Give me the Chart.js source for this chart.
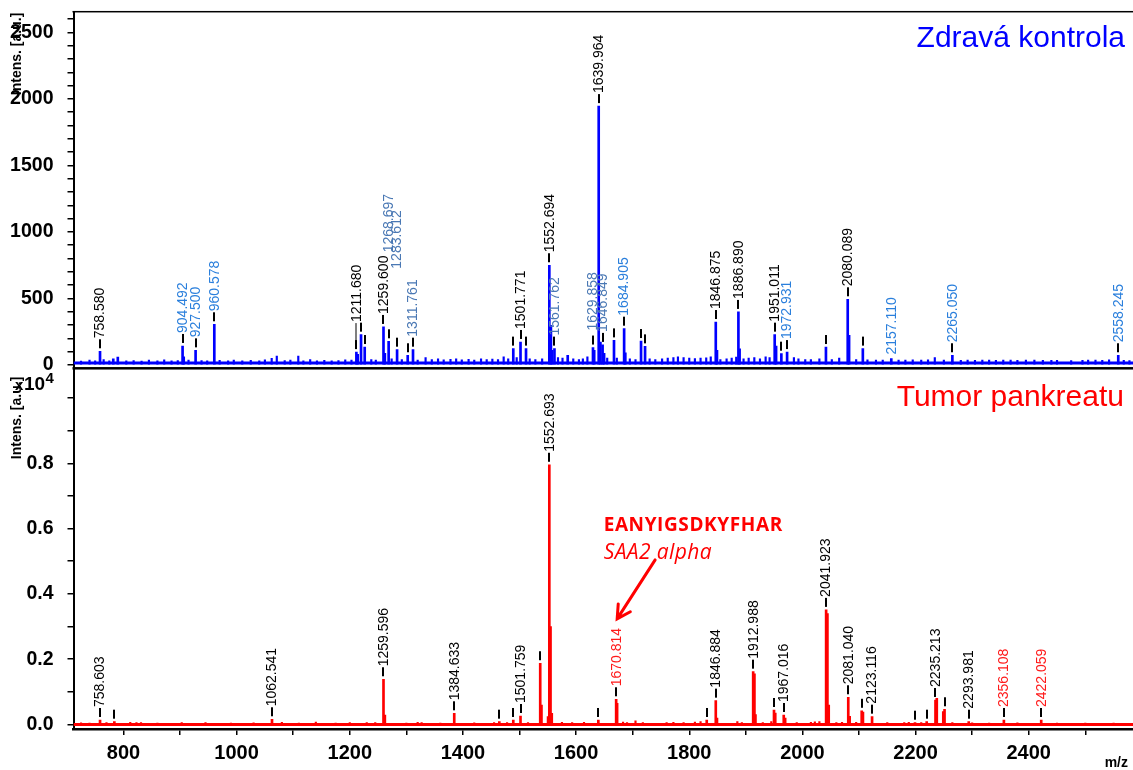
<!DOCTYPE html>
<html>
<head>
<meta charset="utf-8">
<title>Zdravá kontrola vs. Tumor pankreatu</title>
<script src="https://cdn.jsdelivr.net/npm/chart.js@4.4.0/dist/chart.umd.min.js"></script>
<style>
  html, body { margin: 0; padding: 0; background: #fff; }
  #wrap { position: relative; width: 1133px; height: 770px; overflow: hidden; }
  canvas { position: absolute; left: 0; }
  #top-chart { top: -14px; }
  #bottom-chart { top: 342px; }
</style>
</head>
<body>
<div id="wrap">
  <canvas id="top-chart" width="1133" height="408"></canvas>
  <canvas id="bottom-chart" width="1133" height="428"></canvas>
</div>
<script>
// ===== Axis ranges =====
const MZ_MIN = 711.7;
const MZ_MAX = 2584.3;
const TOP_Y_MIN = -26;
const TOP_Y_MAX = 2656;
const BOT_Y_MIN = -138;
const BOT_Y_MAX = 10927;

// ===== Tick labels =====
const xTickLabels    = ['800', '1000', '1200', '1400', '1600', '1800', '2000', '2200', '2400'];
const topYTickLabels = ['0', '500', '1000', '1500', '2000', '2500'];
const botYTickValues = [0, 1000, 2000, 3000, 4000, 5000, 6000, 7000, 8000, 9000, 10000];
const botYTickLabels = ['0.0', '0.2', '0.4', '0.6', '0.8'];

// ===== Zdravá kontrola (top spectrum) =====
const topMz = [
  758.580, 782, 790, 904.492, 906.5, 927.500, 960.578, 1211.680, 1214, 1219.9,
  1226.4, 1259.600, 1262, 1268.697, 1283.612, 1302.4, 1311.761, 1489.0, 1501.771, 1511.5,
  1552.694, 1555.5, 1557.5, 1561.762, 1585.2, 1629.858, 1632, 1639.964, 1643.0, 1646.849,
  1649.5, 1667.0, 1684.905, 1687, 1714.8, 1721.9, 1846.875, 1849, 1886.890, 1889,
  1951.011, 1953.5, 1962.8, 1972.931, 2041.6, 2080.089, 2082.5, 2106.8, 2157.110, 2265.050,
  2558.245,
];
const topInt = [
  102, 45, 59, 142, 60, 109, 305, 96, 80, 227,
  134, 285, 86, 177, 114, 72, 114, 122, 172, 122,
  749, 297, 110, 122, 72, 130, 110, 1946, 172, 150,
  86, 184, 272, 90, 179, 139, 322, 110, 398, 120,
  227, 141, 84, 96, 134, 493, 222, 122, 47, 72,
  72,
];
const topNoiseMz = [
  725, 740, 750, 765, 775, 805, 818, 832, 845, 860,
  872, 885, 896, 915, 938, 948, 970, 985, 995, 1010,
  1025, 1040, 1050, 1062, 1071, 1085, 1095, 1109, 1118, 1130,
  1142, 1155, 1168, 1180, 1192, 1203, 1238, 1246, 1274, 1292,
  1320, 1334, 1345, 1356, 1366, 1378, 1388, 1398, 1410, 1420,
  1432, 1442, 1452, 1462, 1472, 1480, 1495, 1518, 1528, 1540,
  1568, 1576, 1595, 1605, 1612, 1620, 1655, 1672, 1695, 1705,
  1730, 1740, 1752, 1762, 1772, 1780, 1790, 1800, 1810, 1820,
  1830, 1838, 1855, 1866, 1875, 1883, 1896, 1905, 1915, 1925,
  1935, 1942, 1985, 1993, 2005, 2015, 2030, 2052, 2065, 2095,
  2115, 2130, 2142, 2170, 2182, 2195, 2210, 2222, 2234, 2250,
  2280, 2292, 2305, 2318, 2330, 2342, 2355, 2368, 2380, 2395,
  2410, 2425, 2440, 2450, 2475, 2495, 2505, 2518, 2530, 2542, 2568, 2578,
];
const topNoiseInt = [
  28, 35, 30, 40, 30, 30, 32, 28, 35, 30,
  38, 30, 32, 35, 32, 30, 34, 30, 36, 30,
  34, 30, 38, 49, 66, 32, 36, 66, 30, 40,
  30, 34, 30, 32, 38, 35, 40, 35, 45, 40,
  36, 55, 40, 45, 38, 42, 46, 38, 42, 36,
  45, 40, 44, 40, 60, 45, 55, 45, 40, 45,
  55, 50, 45, 40, 45, 60, 50, 50, 45, 40,
  45, 40, 45, 50, 55, 60, 55, 50, 48, 50,
  52, 60, 40, 45, 50, 59, 45, 50, 55, 45,
  60, 55, 54, 45, 40, 40, 45, 40, 50, 40,
  38, 36, 35, 36, 35, 38, 36, 38, 54, 36,
  34, 36, 34, 36, 35, 34, 36, 35, 34, 36,
  36, 34, 34, 34, 32, 34, 36, 35, 34, 38, 34, 32,
];
const topBaseline = [14, 14];
const topLabelsBlack = ['758.580', '1211.680', '1259.600', '1501.771', '1552.694', '1639.964',
                        '1846.875', '1886.890', '1951.011', '2080.089'];
const topLabelsBlue  = ['904.492', '927.500', '960.578', '1684.905', '1972.931', '2157.110',
                        '2265.050', '2558.245'];
const topLabelsSteel = ['1268.697', '1283.612', '1311.761', '1561.762', '1629.858', '1646.849'];
const topMarkers = [1219.9, 1226.4, 1302.4, 1489.0, 1511.5, 1667.0, 1714.8, 1721.9, 1962.8, 2041.6, 2106.8];

// ===== Tumor pankreatu (bottom spectrum) =====
const botMz = [
  758.603, 783.9, 1062.541, 1259.596, 1262, 1384.633, 1464.3, 1489.0, 1501.759, 1536.6,
  1538.8, 1550.5, 1552.693, 1554.8, 1557, 1639.3, 1670.814, 1672.5, 1830.9, 1846.884,
  1849, 1912.988, 1915.2, 1917, 1949.8, 1952, 1967.016, 1969.5, 2041.923, 2044.2,
  2046.5, 2081.040, 2083.5, 2104.8, 2107, 2123.116, 2199.0, 2219.7, 2235.213, 2237.5,
  2249.0, 2251.2, 2293.981, 2356.108, 2422.059,
];
const botInt = [
  138, 86, 160, 1385, 290, 343, 86, 138, 260, 1876,
  598, 240, 7954, 2998, 343, 138, 772, 650, 138, 730,
  200, 1618, 1550, 300, 444, 350, 291, 200, 3510, 3400,
  598, 834, 250, 420, 380, 240, 55, 86, 751, 803,
  392, 466, 86, 138, 138,
];
const botNoiseMz = [
  725, 740, 770, 812, 823, 831, 860, 903, 945, 990,
  1030, 1080, 1110, 1140, 1175, 1200, 1230, 1245, 1300, 1320,
  1327, 1360, 1420, 1455, 1478, 1515, 1575, 1593, 1614, 1683,
  1690, 1705, 1718, 1760, 1772, 1790, 1810, 1820, 1885, 1893,
  1930, 1945, 1990, 2015, 2022, 2030, 2060, 2070, 2095, 2150,
  2180, 2188, 2210, 2265, 2300, 2330, 2380, 2450, 2500, 2550,
];
const botNoiseInt = [
  50, 40, 60, 70, 60, 55, 40, 60, 55, 40,
  50, 70, 40, 75, 40, 55, 60, 55, 40, 70,
  60, 40, 50, 60, 55, 60, 70, 60, 70, 75,
  60, 110, 60, 60, 70, 60, 75, 90, 90, 60,
  60, 90, 55, 70, 80, 90, 60, 70, 70, 55,
  60, 70, 60, 60, 50, 40, 50, 40, 40, 40,
];
const botBaseline = [0, 0];
const botLabelsBlack = ['758.603', '1062.541', '1259.596', '1384.633', '1501.759', '1552.693',
                        '1846.884', '1912.988', '1967.016', '2041.923', '2081.040', '2123.116',
                        '2235.213', '2293.981'];
const botLabelsRed   = ['1670.814', '2356.108', '2422.059'];
const botMarkers = [783.9, 1464.3, 1489.0, 1536.6, 1639.3, 1830.9, 1949.8, 2104.8, 2199.0, 2219.7, 2251.2];

// ===== Styles =====
const COLORS = {
  top:   '#0000ff',
  bot:   '#ff0000',
  black: '#000000',
  blue:  '#2a7fdc',
  steel: '#4a78b4',
  red:   '#ff1a1a',
};
const FONT       = '"Liberation Sans", Arial, sans-serif';
const LABEL_FONT = '14px ' + FONT;
// extra lift (px) of a few labels that sit higher in the original
const TOP_LIFT = { '1211.680': 17, '1268.697': 76, '1283.612': 68, '1629.858': 4, '2157.110': -9 };
const TOP_LEADER = ['1211.680'];

// ===== Helpers =====
function points(mz, ints) {
  return mz.map((m, i) => ({ x: m, y: ints[i] }));
}

function drawMarker(ctx, px, py) {
  ctx.fillStyle = COLORS.black;
  ctx.fillRect(Math.round(px) - 1, py - 12, 2, 9);
}

function peakLabelPlugin(cfg) {
  return {
    id: 'peakLabels',
    afterDatasetsDraw(chart) {
      const { ctx, scales: { x, y } } = chart;
      const heightOf = mz => cfg.int[cfg.mz.indexOf(mz)];
      const lift = cfg.lift || {};
      const leaders = cfg.leaders || [];

      ctx.save();
      cfg.markers.forEach(mz => {
        drawMarker(ctx, x.getPixelForValue(mz), y.getPixelForValue(heightOf(mz)));
      });

      ctx.font = LABEL_FONT;
      ctx.textAlign = 'left';
      ctx.textBaseline = 'middle';
      cfg.groups.forEach(group => {
        group.labels.forEach(txt => {
          const mz = parseFloat(txt);
          const px = x.getPixelForValue(mz);
          const py = y.getPixelForValue(heightOf(mz));
          const up = lift[txt] || 0;
          if (up >= 0) drawMarker(ctx, px, py);
          if (leaders.includes(txt)) {
            ctx.fillStyle = COLORS.black;
            ctx.fillRect(Math.round(px) - 0.5, py - 12 - up, 1, up + 9);
          }
          ctx.save();
          ctx.translate(px + 0.5, py - 13 - up);
          ctx.rotate(-Math.PI / 2);
          ctx.fillStyle = group.color;
          ctx.fillText(txt, 0, 0);
          ctx.restore();
        });
      });
      ctx.restore();
    },
  };
}

function axisTitle(ctx, cx, topY) {
  ctx.save();
  ctx.translate(cx, topY);
  ctx.rotate(-Math.PI / 2);
  ctx.font = 'bold 14px ' + FONT;
  ctx.fillStyle = COLORS.black;
  ctx.textAlign = 'right';
  ctx.textBaseline = 'middle';
  ctx.fillText('Intens. [a.u.]', 0, 0);
  ctx.restore();
}

// ===== Notes drawn on top of each panel =====
const topNotes = {
  id: 'topNotes',
  afterDraw(chart) {
    const { ctx, chartArea: a } = chart;
    ctx.save();
    // panel frame (top and bottom edges)
    ctx.fillStyle = COLORS.black;
    ctx.fillRect(a.left - 1, a.top - 0.75, a.right - a.left + 1, 1.5);
    ctx.fillRect(a.left - 1, a.bottom - 1.25, a.right - a.left + 1, 2.5);

    ctx.font = '30px ' + FONT;
    ctx.fillStyle = COLORS.top;
    ctx.textAlign = 'right';
    ctx.textBaseline = 'alphabetic';
    ctx.fillText('Zdravá kontrola', a.right - 8, a.top + 35.5);

    axisTitle(ctx, 17, a.top + 1);
    ctx.restore();
  },
};

const botNotes = {
  id: 'botNotes',
  afterDraw(chart) {
    const { ctx, chartArea: a, scales: { x, y } } = chart;
    ctx.save();
    ctx.font = '30px ' + FONT;
    ctx.fillStyle = COLORS.bot;
    ctx.textAlign = 'right';
    ctx.textBaseline = 'alphabetic';
    ctx.fillText('Tumor pankreatu', a.right - 9, a.top + 38);

    // arrow to the SAA2 alpha peak label
    const mz = 1670.814;
    ctx.font = LABEL_FONT;
    const labelLen = ctx.measureText('1670.814').width;
    const px = x.getPixelForValue(mz);
    const py = y.getPixelForValue(botInt[botMz.indexOf(mz)]);
    const tipX = px + 1;
    const tipY = py - 13 - labelLen - 9;
    const tailX = tipX + 38;
    const tailY = tipY - 59;

    ctx.strokeStyle = COLORS.bot;
    ctx.lineWidth = 3;
    ctx.lineCap = 'round';
    ctx.beginPath();
    ctx.moveTo(tailX, tailY);
    ctx.lineTo(tipX, tipY);
    const ang = Math.atan2(tailY - tipY, tailX - tipX);
    const head = 15;
    ctx.moveTo(tipX + head * Math.cos(ang + 0.5), tipY + head * Math.sin(ang + 0.5));
    ctx.lineTo(tipX, tipY);
    ctx.lineTo(tipX + head * Math.cos(ang - 0.5), tipY + head * Math.sin(ang - 0.5));
    ctx.stroke();

    ctx.fillStyle = COLORS.bot;
    ctx.textAlign = 'left';
    ctx.letterSpacing = '0.6px';
    ctx.font = 'bold 19px "Open Sans", sans-serif';
    ctx.fillText('EANYIGSDKYFHAR', tipX - 13.5, tipY - 87.5);
    ctx.letterSpacing = '0.4px';
    ctx.font = 'italic 21px "Open Sans", sans-serif';
    ctx.fillText('SAA2 alpha', tipX - 13.5, tipY - 60);
    ctx.letterSpacing = '0px';

    // axis title and exponent
    axisTitle(ctx, 17.5, a.top + 9);
    ctx.fillStyle = COLORS.black;
    ctx.font = 'bold 15px ' + FONT;
    ctx.fillText('x', 15, a.top + 22);
    ctx.font = 'bold 19px ' + FONT;
    ctx.fillText('10', 24, a.top + 22);
    ctx.font = 'bold 15px ' + FONT;
    ctx.fillText('4', 45.5, a.top + 15);

    ctx.font = 'bold 14px ' + FONT;
    ctx.textAlign = 'right';
    ctx.fillText('m/z', a.right - 5, chart.height - 3);
    ctx.restore();
  },
};

// ===== Chart builder =====
function axisGrid() {
  return { display: true, drawOnChartArea: false, drawTicks: true, tickLength: 6,
           color: COLORS.black, lineWidth: 1.5, offset: false };
}

function spectrumChart(canvasId, s) {
  const xScale = {
    type: 'linear',
    min: MZ_MIN,
    max: MZ_MAX,
    offset: false,
    display: s.showX,
    grid: axisGrid(),
    border: { display: true, color: COLORS.black, width: 2.5 },
    ticks: {
      stepSize: 100,
      includeBounds: false,
      autoSkip: false,
      maxRotation: 0,
      padding: 6,
      color: COLORS.black,
      font: { family: FONT, size: 20, weight: 'bold' },
      callback: v => (xTickLabels.includes(String(v)) ? String(v) : ''),
    },
  };
  if (s.showX) xScale.afterFit = scale => { scale.height = 41; };

  const yScale = {
    type: 'linear',
    min: s.yMin,
    max: s.yMax,
    grid: axisGrid(),
    border: { display: true, color: COLORS.black, width: 2 },
    ticks: {
      stepSize: s.yStep,
      includeBounds: false,
      autoSkip: false,
      padding: 14,
      color: COLORS.black,
      font: { family: FONT, size: 19.5, weight: 'bold' },
      callback: s.yLabel,
    },
    afterFit: scale => { scale.width = 73.5; },
  };
  // fixed tick list where the automatic one would spread ticks evenly from min
  if (s.yTicks) yScale.afterBuildTicks = scale => { scale.ticks = s.yTicks.map(v => ({ value: v })); };

  return new Chart(document.getElementById(canvasId), {
    type: 'bar',
    data: {
      datasets: [
        { data: points(s.mz, s.int), backgroundColor: s.color, barThickness: 2, grouped: false, order: 1 },
        { data: points(s.noiseMz, s.noiseInt), backgroundColor: s.color, barThickness: 1.5, grouped: false, order: 2 },
        { type: 'line', data: points([MZ_MIN, MZ_MAX], s.baseline), borderColor: s.color,
          borderWidth: 3, pointRadius: 0, order: 3 },
      ],
    },
    options: {
      responsive: false,
      animation: false,
      devicePixelRatio: 1,
      layout: { padding: 0 },
      plugins: { legend: { display: false }, tooltip: { enabled: false } },
      scales: { x: xScale, y: yScale },
    },
    plugins: [peakLabelPlugin(s.labels), s.notes],
  });
}

// ===== Init =====
spectrumChart('top-chart', {
  mz: topMz, int: topInt, noiseMz: topNoiseMz, noiseInt: topNoiseInt, baseline: topBaseline,
  color: COLORS.top, showX: false,
  yMin: TOP_Y_MIN, yMax: TOP_Y_MAX, yStep: 100,
  yLabel: v => (topYTickLabels.includes(String(v)) ? String(v) : ''),
  notes: topNotes,
  labels: {
    mz: topMz, int: topInt, markers: topMarkers, lift: TOP_LIFT, leaders: TOP_LEADER,
    groups: [
      { labels: topLabelsBlack, color: COLORS.black },
      { labels: topLabelsBlue,  color: COLORS.blue },
      { labels: topLabelsSteel, color: COLORS.steel },
    ],
  },
});

spectrumChart('bottom-chart', {
  mz: botMz, int: botInt, noiseMz: botNoiseMz, noiseInt: botNoiseInt, baseline: botBaseline,
  color: COLORS.bot, showX: true,
  yMin: BOT_Y_MIN, yMax: BOT_Y_MAX, yStep: 1000, yTicks: botYTickValues,
  yLabel: v => {
    const t = (v / 10000).toFixed(1);
    return botYTickLabels.includes(t) ? t : '';
  },
  notes: botNotes,
  labels: {
    mz: botMz, int: botInt, markers: botMarkers,
    groups: [
      { labels: botLabelsBlack, color: COLORS.black },
      { labels: botLabelsRed,   color: COLORS.red },
    ],
  },
});
</script>
</body>
</html>
